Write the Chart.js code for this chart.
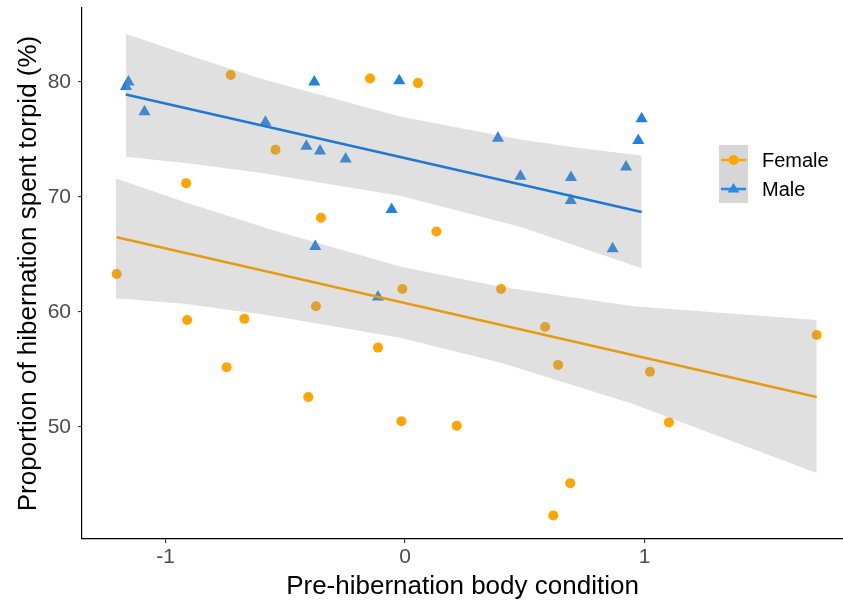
<!DOCTYPE html>
<html>
<head>
<meta charset="utf-8">
<script src="https://cdn.jsdelivr.net/npm/chart.js@4.4.1/dist/chart.umd.min.js"></script>
<style>
  html, body { margin: 0; padding: 0; background: #fff; }
  #wrap { width: 843px; height: 605px; }
</style>
</head>
<body>
<div id="wrap"><canvas id="torpor" width="843" height="605"></canvas></div>
<script>
// values
const femaleX = [-1.204, -0.914, -0.910, -0.745, -0.728, -0.671, -0.541, -0.404, -0.372, -0.351, -0.146, -0.113, -0.015, -0.011, 0.054, 0.131, 0.216, 0.401, 0.585, 0.619, 0.639, 0.690, 1.023, 1.102, 1.719];
const femaleY = [63.3, 71.2, 59.3, 55.2, 80.6, 59.4, 74.1, 52.6, 60.5, 68.2, 80.3, 56.9, 50.5, 62.0, 79.9, 67.0, 50.1, 62.0, 58.7, 42.3, 55.4, 45.1, 54.8, 50.4, 58.0];
const maleX = [-1.165, -1.155, -1.088, -0.583, -0.412, -0.379, -0.375, -0.355, -0.248, -0.113, -0.056, -0.024, 0.388, 0.482, 0.692, 0.693, 0.867, 0.923, 0.974, 0.988];
const maleY = [79.6, 80.0, 77.4, 76.5, 74.4, 80.0, 65.7, 74.0, 73.3, 61.3, 68.9, 80.1, 75.1, 71.8, 69.7, 71.7, 65.5, 72.6, 74.9, 76.8];

// fitted lines (end points) and confidence bands
const femaleFitX = [-1.204, 1.719];
const femaleFitY = [66.5, 52.6];
const maleFitX = [-1.166, 0.988];
const maleFitY = [78.9, 68.7];

const femaleBandX = [-1.207, -0.912, -0.55, -0.021, 0.397, 0.953, 1.719];
const femaleBandHi = [71.6, 69.5, 67.1, 63.95, 62.2, 60.5, 59.3];
const femaleBandLo = [61.2, 60.7, 59.65, 57.75, 55.6, 52.0, 46.0];
const maleBandX = [-1.166, -0.9, -0.605, -0.021, 0.48, 0.75, 0.988];
const maleBandHi = [84.2, 82.3, 80.3, 77.0, 75.0, 74.2, 73.6];
const maleBandLo = [73.5, 72.9, 72.1, 70.1, 67.4, 65.5, 63.8];

const xTicks = [-1, 0, 1];
const yTicks = [50, 60, 70, 80];
const groups = ["Female", "Male"];

const ORANGE = "#FFA500";
const ORANGE_LINE = "#E59C12";
const BLUE = "#1E82E0";
const BLUE_LINE = "#1F78D2";
const BAND = "rgba(153,153,153,0.3)";
const FONT = "'Liberation Sans', Arial, sans-serif";

const pairs = (xs, ys) => xs.map((x, i) => ({x: x, y: ys[i]}));

// no extra padding from tick labels, axis box sizes fixed
const noPad = s => { s.paddingTop = 0; s.paddingBottom = 0; s.paddingLeft = 0; s.paddingRight = 0; };

const legendPlugin = {
    id: "keyLegend",
    afterDraw(chart) {
        const ctx = chart.ctx;
        ctx.save();
        ctx.fillStyle = "#D6D6D6";
        ctx.fillRect(719, 145, 29, 58);
        const rows = [
            {y: 160, color: ORANGE, shape: "circle"},
            {y: 189, color: "#2A8CE8", shape: "triangle"}
        ];
        rows.forEach((r, i) => {
            ctx.strokeStyle = r.color;
            ctx.lineWidth = 2.6;
            ctx.beginPath();
            ctx.moveTo(721, r.y);
            ctx.lineTo(746, r.y);
            ctx.stroke();
            ctx.fillStyle = r.color;
            ctx.beginPath();
            if (r.shape === "circle") {
                ctx.arc(733.5, r.y, 5, 0, Math.PI * 2);
            } else {
                ctx.moveTo(733.5, r.y - 6);
                ctx.lineTo(739.5, r.y + 3.5);
                ctx.lineTo(727.5, r.y + 3.5);
                ctx.closePath();
            }
            ctx.fill();
            ctx.fillStyle = "#000";
            ctx.font = "20px " + FONT;
            ctx.textBaseline = "middle";
            ctx.fillText(groups[i], 762, r.y + 1);
        });
        ctx.restore();
    }
};

const bandSet = (xs, ys, fill) => ({
    type: "line",
    data: pairs(xs, ys),
    borderWidth: 0,
    pointRadius: 0,
    backgroundColor: BAND,
    borderColor: "rgba(0,0,0,0)",
    fill: fill,
    tension: 0,
    order: 2
});

new Chart(document.getElementById("torpor"), {
    type: "scatter",
    data: {
        datasets: [
            {label: "Female", data: pairs(femaleX, femaleY), backgroundColor: ORANGE, pointRadius: 5, borderWidth: 0, order: 3},
            {label: "Male", data: pairs(maleX, maleY), backgroundColor: BLUE, pointStyle: "triangle", pointRadius: 7, borderWidth: 0, order: 3},
            bandSet(femaleBandX, femaleBandHi, "+1"),
            bandSet(femaleBandX, femaleBandLo, false),
            bandSet(maleBandX, maleBandHi, "+1"),
            bandSet(maleBandX, maleBandLo, false),
            {type: "line", data: pairs(femaleFitX, femaleFitY), borderColor: ORANGE_LINE, borderWidth: 2.6, pointRadius: 0, fill: false, order: 1},
            {type: "line", data: pairs(maleFitX, maleFitY), borderColor: BLUE_LINE, borderWidth: 2.6, pointRadius: 0, fill: false, order: 1}
        ]
    },
    options: {
        responsive: false,
        animation: false,
        layout: {autoPadding: false, padding: {top: 8, right: 0, left: 0, bottom: 0}},
        plugins: {legend: {display: false}, tooltip: {enabled: false}},
        scales: {
            x: {
                type: "linear",
                min: -1.349,
                max: 1.829,
                afterBuildTicks: s => { s.ticks = xTicks.map(v => ({value: v})); },
                afterFit: s => { s.height = 66; noPad(s); },
                ticks: {color: "#4D4D4D", font: {size: 21, family: FONT}, padding: 2, callback: v => String(v)},
                grid: {drawOnChartArea: false, drawTicks: true, tickLength: 4, color: "#333", lineWidth: 1.1},
                border: {display: true, color: "#000", width: 1.2},
                title: {display: true, text: "Pre-hibernation body condition", color: "#000", font: {size: 26, family: FONT}, padding: {top: 0, bottom: 3}}
            },
            y: {
                min: 40.26,
                max: 86.43,
                afterBuildTicks: s => { s.ticks = yTicks.map(v => ({value: v})); },
                afterFit: s => { s.width = 82; noPad(s); },
                ticks: {color: "#4D4D4D", font: {size: 21, family: FONT}, padding: 7, callback: v => String(v)},
                grid: {drawOnChartArea: false, drawTicks: true, tickLength: 4, color: "#333", lineWidth: 1.1},
                border: {display: true, color: "#000", width: 1.2},
                title: {display: true, text: "Proportion of hibernation spent torpid (%)", color: "#000", font: {size: 26, family: FONT}, padding: {top: 13, bottom: 0}}
            }
        }
    },
    plugins: [legendPlugin]
});
</script>
</body>
</html>
